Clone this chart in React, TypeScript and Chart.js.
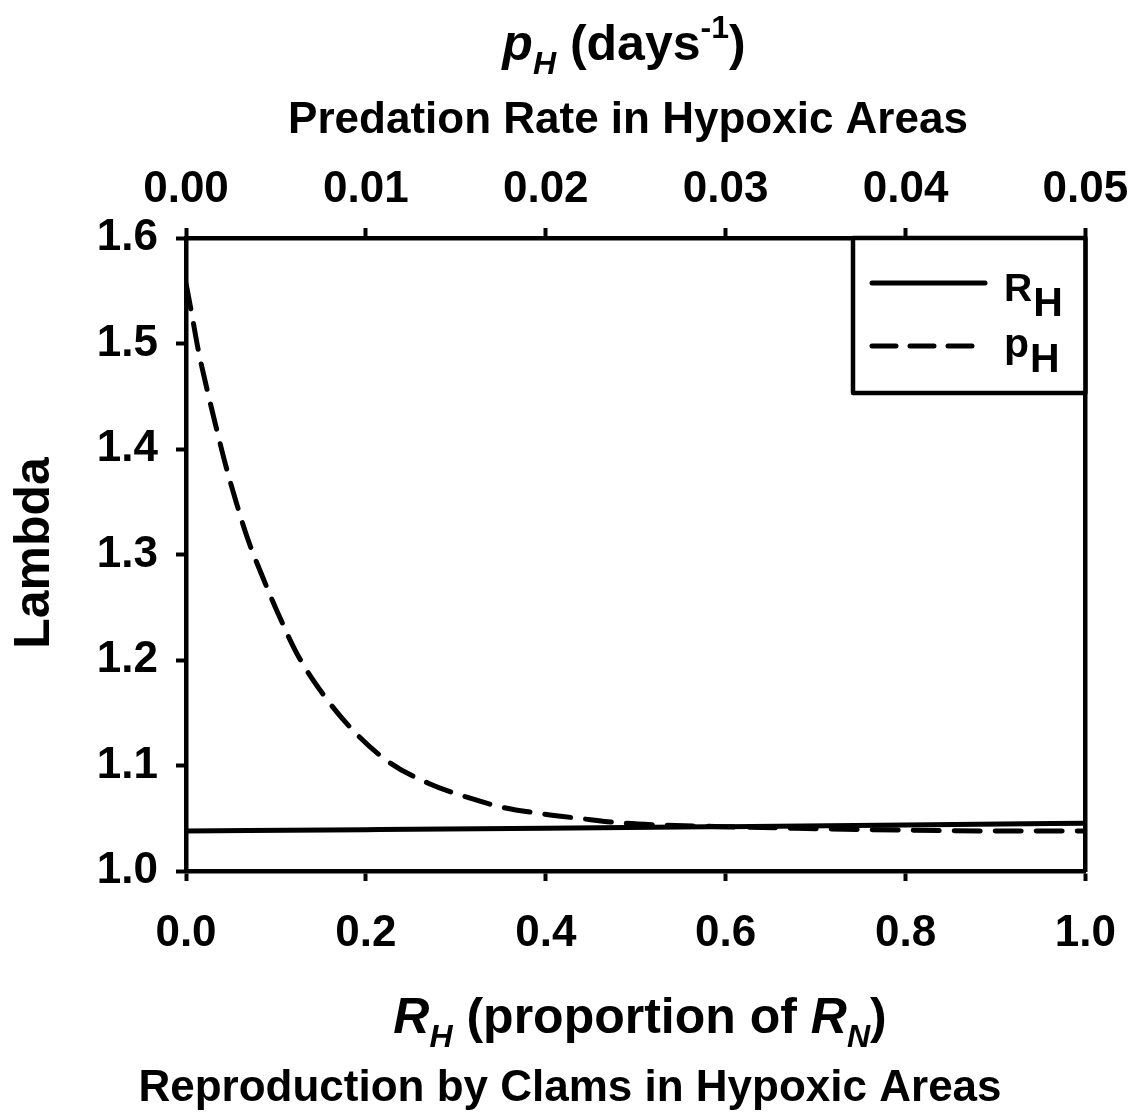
import React, { useEffect, useRef } from "react";
import { Chart, registerables } from "chart.js";

Chart.register(...registerables);

// ---- Data ----
const rhValues = [0, 0.2, 0.4, 0.6, 0.8, 1.0];
const rhLambda = [1.038, 1.0392, 1.0405, 1.042, 1.0436, 1.0453];

const phValues = [
  0, 0.0003, 0.00068, 0.00115, 0.00167, 0.0022, 0.0028, 0.00345, 0.0043,
  0.0052, 0.0062, 0.0076, 0.0093, 0.0113, 0.0135, 0.0157, 0.0177, 0.0199,
  0.022, 0.024, 0.0263, 0.0283, 0.0339, 0.0424, 0.05,
];
const phLambda = [
  1.557, 1.53, 1.494, 1.458, 1.421, 1.385, 1.349, 1.314, 1.277, 1.241, 1.205,
  1.168, 1.133, 1.103, 1.083, 1.0695, 1.06, 1.054, 1.0496, 1.0458, 1.0436,
  1.0427, 1.0405, 1.0382, 1.0378,
];

const bottomTicks = [0, 0.2, 0.4, 0.6, 0.8, 1.0];
const topTicks = [0, 0.01, 0.02, 0.03, 0.04, 0.05];
const yTicks = [1.0, 1.1, 1.2, 1.3, 1.4, 1.5, 1.6];

const legendLabels = ["R", "p"];
const legendSubs = ["H", "H"];
const yTitle = "Lambda";
const topSubtitle = "Predation Rate in Hypoxic Areas";
const bottomSubtitle = "Reproduction by Clams in Hypoxic Areas";

const FAM = "'Liberation Sans', Arial, sans-serif";

type Seg = { t: string; font: string; dy?: number };

function drawRich(ctx: CanvasRenderingContext2D, segs: Seg[], cx: number, baseY: number) {
  let total = 0;
  for (const s of segs) {
    ctx.font = s.font;
    total += ctx.measureText(s.t).width;
  }
  let x = cx - total / 2;
  ctx.textAlign = "left";
  ctx.textBaseline = "alphabetic";
  for (const s of segs) {
    ctx.font = s.font;
    ctx.fillText(s.t, x, baseY + (s.dy || 0));
    x += ctx.measureText(s.t).width;
  }
}

const textPlugin = {
  id: "richText",
  afterDraw(chart: any) {
    const ctx: CanvasRenderingContext2D = chart.ctx;
    ctx.save();
    ctx.fillStyle = "#000";
    // top titles
    drawRich(
      ctx,
      [
        { t: "p", font: `italic bold 50px ${FAM}` },
        { t: "H", font: `italic bold 32px ${FAM}`, dy: 14 },
        { t: " (days", font: `bold 50px ${FAM}` },
        { t: "-1", font: `bold 32px ${FAM}`, dy: -22 },
        { t: ")", font: `bold 50px ${FAM}` },
      ],
      624,
      60
    );
    drawRich(ctx, [{ t: topSubtitle, font: `bold 44px ${FAM}` }], 628, 133);
    // bottom titles
    drawRich(
      ctx,
      [
        { t: "R", font: `italic bold 50px ${FAM}` },
        { t: "H", font: `italic bold 32px ${FAM}`, dy: 14 },
        { t: " (proportion of ", font: `bold 50px ${FAM}` },
        { t: "R", font: `italic bold 50px ${FAM}` },
        { t: "N", font: `italic bold 32px ${FAM}`, dy: 14 },
        { t: ")", font: `bold 50px ${FAM}` },
      ],
      640,
      1033
    );
    drawRich(ctx, [{ t: bottomSubtitle, font: `bold 44px ${FAM}` }], 570, 1101);
    // y title
    ctx.save();
    ctx.translate(49, 553);
    ctx.rotate(-Math.PI / 2);
    ctx.font = `bold 50px ${FAM}`;
    ctx.textAlign = "center";
    ctx.textBaseline = "alphabetic";
    ctx.fillText(yTitle, 0, 0);
    ctx.restore();

    // legend
    const area = chart.chartArea;
    const bx = 853, by = area.top, bw = area.right - 853, bh = 393 - area.top;
    ctx.fillStyle = "#fff";
    ctx.fillRect(bx, by, bw, bh);
    ctx.strokeStyle = "#000";
    ctx.lineWidth = 4.5;
    ctx.lineJoin = "round";
    ctx.strokeRect(bx, by, bw, bh);
    ctx.lineCap = "round";
    ctx.lineWidth = 5;
    ctx.beginPath();
    ctx.moveTo(872, 283);
    ctx.lineTo(985, 283);
    ctx.stroke();
    ctx.setLineDash([24, 14]);
    ctx.beginPath();
    ctx.moveTo(872, 346);
    ctx.lineTo(974, 346);
    ctx.stroke();
    ctx.setLineDash([]);
    ctx.fillStyle = "#000";
    ctx.textAlign = "left";
    ctx.font = `bold 39px ${FAM}`;
    ctx.fillText(legendLabels[0], 1004, 301);
    const rw = ctx.measureText(legendLabels[0]).width;
    ctx.font = `bold 41px ${FAM}`;
    ctx.fillText(legendSubs[0], 1004 + rw + 1, 316);
    ctx.font = `bold 41px ${FAM}`;
    ctx.fillText(legendLabels[1], 1004, 357);
    const pw = ctx.measureText(legendLabels[1]).width;
    ctx.font = `bold 41px ${FAM}`;
    ctx.fillText(legendSubs[1], 1004 + pw + 1, 372);
    ctx.restore();
  },
};

export default function App() {
  const ref = useRef<HTMLCanvasElement | null>(null);
  useEffect(() => {
    if (!ref.current) return;
    const tickFont = { family: FAM, size: 44, weight: "bold" as const };
    const gridOpts = {
      drawOnChartArea: false,
      drawTicks: true,
      tickLength: 10,
      tickWidth: 4,
      tickColor: "#000",
      color: "#000",
    };
    const border = { display: true, color: "#000", width: 4.5 };
    const chart = new Chart(ref.current, {
      type: "line",
      data: {
        datasets: [
          {
            label: "RH",
            data: rhValues.map((x, i) => ({ x, y: rhLambda[i] })),
            xAxisID: "x",
            yAxisID: "y",
            borderColor: "#000",
            borderWidth: 5,
            pointRadius: 0,
            cubicInterpolationMode: "monotone",
            fill: false,
          },
          {
            label: "pH",
            data: phValues.map((x, i) => ({ x, y: phLambda[i] })),
            xAxisID: "x2",
            yAxisID: "y",
            borderColor: "#000",
            borderWidth: 5,
            borderDash: [26, 15],
            borderCapStyle: "round",
            pointRadius: 0,
            cubicInterpolationMode: "monotone",
            fill: false,
          },
        ],
      },
      options: {
        animation: false,
        responsive: false,
        devicePixelRatio: 1,
        layout: { padding: 0 },
        plugins: { legend: { display: false }, tooltip: { enabled: false } },
        scales: {
          x: {
            type: "linear",
            position: "bottom",
            min: 0,
            max: 1,
            afterBuildTicks: (s: any) => {
              s.ticks = bottomTicks.map((v) => ({ value: v }));
            },
            ticks: {
              font: tickFont,
              color: "#000",
              padding: 26,
              maxRotation: 0,
              callback: (v: any) => Number(v).toFixed(1),
            },
            grid: gridOpts,
            border,
            afterFit: (s: any) => {
              s.height = 247;
            },
          },
          x2: {
            type: "linear",
            position: "top",
            min: 0,
            max: 0.05,
            afterBuildTicks: (s: any) => {
              s.ticks = topTicks.map((v) => ({ value: v }));
            },
            ticks: {
              font: tickFont,
              color: "#000",
              padding: 12,
              maxRotation: 0,
              callback: (v: any) => Number(v).toFixed(2),
            },
            grid: gridOpts,
            border,
            afterFit: (s: any) => {
              s.height = 238;
            },
          },
          y: {
            type: "linear",
            position: "left",
            min: 1.0,
            max: 1.6,
            afterBuildTicks: (s: any) => {
              s.ticks = yTicks.map((v) => ({ value: v }));
            },
            ticks: {
              font: tickFont,
              color: "#000",
              padding: 18,
              callback: (v: any) => Number(v).toFixed(1),
            },
            grid: gridOpts,
            border,
            afterFit: (s: any) => {
              s.width = 186;
            },
          },
          y2: {
            type: "linear",
            position: "right",
            min: 1.0,
            max: 1.6,
            ticks: { display: false },
            grid: { display: false, drawTicks: false },
            border,
            afterFit: (s: any) => {
              s.width = 54;
            },
          },
        },
      } as any,
      plugins: [textPlugin],
    });
    return () => chart.destroy();
  }, []);
  return (
    <div style={{ position: "absolute", left: 0, top: 0, width: 1142, height: 1118, background: "#fff" }}>
      <canvas ref={ref} width={1142} height={1118} style={{ width: 1142, height: 1118 }} />
    </div>
  );
}
